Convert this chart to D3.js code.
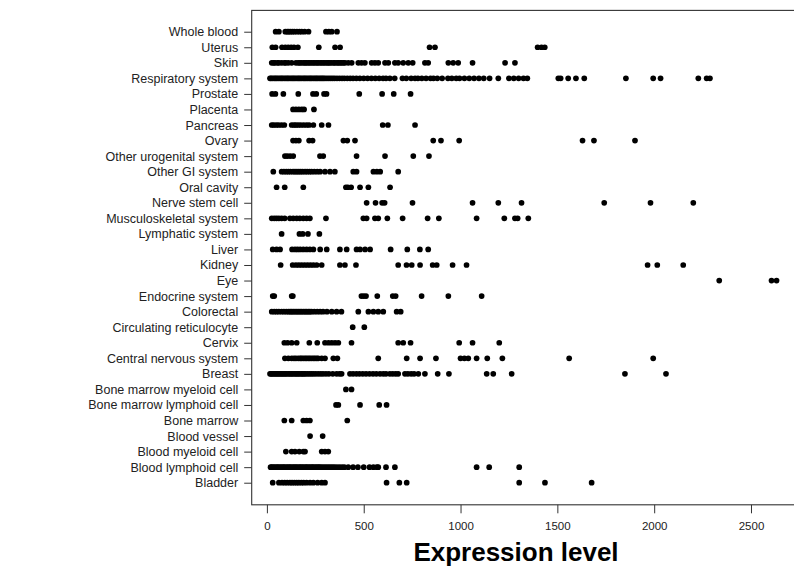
<!DOCTYPE html>
<html>
<head>
<meta charset="utf-8">
<script src="https://cdn.jsdelivr.net/npm/d3@7"></script>
<style>
  body { margin: 0; background: #fff; }
  svg { display: block; font-family: "Liberation Sans", Arial, Helvetica, sans-serif; }
</style>
</head>
<body>
<div id="chart"></div>
<script>
// categories listed bottom to top, as in the plot
var categories = ["Bladder", "Blood lymphoid cell", "Blood myeloid cell", "Blood vessel",
  "Bone marrow", "Bone marrow lymphoid cell", "Bone marrow myeloid cell", "Breast",
  "Central nervous system", "Cervix", "Circulating reticulocyte", "Colorectal",
  "Endocrine system", "Eye", "Kidney", "Liver", "Lymphatic system", "Musculoskeletal system",
  "Nerve stem cell", "Oral cavity", "Other GI system", "Other urogenital system", "Ovary",
  "Pancreas", "Placenta", "Prostate", "Respiratory system", "Skin", "Uterus", "Whole blood"];

var xTicks = [0, 500, 1000, 1500, 2000, 2500];

var bladder = [30, 62, 78, 92, 105, 119, 130, 142, 154, 165, 178, 190, 205, 223, 240, 262, 283, 300, 618, 684, 722, 1303, 1436, 1677];
var bloodLymphoid = [19, 25, 32, 40, 48, 55, 62, 70, 78, 85, 92, 100, 108, 115, 122, 130, 138, 145, 152, 160, 168, 175, 182, 190, 198, 205, 212, 220, 228, 235, 242, 250, 258, 265, 272, 280, 290, 300, 310, 320, 330, 340, 350, 362, 375, 388, 400, 420, 445, 470, 500, 530, 550, 568, 575, 615, 661, 1083, 1148, 1303];
var bloodMyeloid = [98, 128, 145, 167, 188, 197, 283, 300, 317];
var bloodVessel = [223, 288];
var boneMarrow = [90, 128, 188, 205, 222, 415];
var bmLymphoid = [357, 369, 481, 580, 618];
var bmMyeloid = [408, 437];
var breast = [16, 22, 28, 35, 42, 48, 55, 62, 68, 75, 82, 88, 95, 102, 110, 118, 125, 132, 140, 148, 155, 162, 170, 178, 185, 192, 200, 210, 220, 230, 240, 252, 265, 278, 290, 305, 320, 340, 360, 375, 386, 429, 445, 462, 478, 495, 512, 530, 548, 565, 584, 601, 615, 635, 650, 665, 678, 713, 728, 745, 760, 782, 816, 882, 940, 1135, 1169, 1264, 1849, 2061];
var cns = [93, 111, 128, 140, 150, 162, 172, 179, 188, 197, 205, 214, 222, 231, 240, 248, 257, 265, 283, 300, 343, 364, 575, 722, 791, 873, 1000, 1020, 1040, 1083, 1138, 1216, 1561, 1995];
var cervix = [90, 107, 128, 154, 219, 260, 300, 318, 335, 352, 369, 437, 678, 704, 742, 993, 1062, 1200];
var reticulocyte = [443, 503];
var colorectal = [25, 38, 50, 62, 76, 88, 100, 111, 120, 128, 136, 145, 154, 162, 171, 179, 188, 197, 205, 214, 222, 231, 245, 260, 275, 290, 310, 335, 360, 385, 472, 524, 550, 575, 601, 670, 691];
var endocrine = [30, 38, 128, 134, 488, 500, 512, 570, 650, 665, 799, 937, 1109];
var eye = [2336, 2606, 2632];
var kidney = [71, 133, 150, 165, 180, 195, 210, 225, 240, 257, 283, 377, 403, 460, 678, 721, 748, 791, 856, 877, 959, 1031, 1966, 2016, 2150];
var liver = [30, 50, 68, 130, 145, 158, 172, 188, 205, 222, 240, 275, 309, 377, 412, 463, 481, 507, 533, 639, 725, 790, 833];
var lymphatic = [76, 168, 185, 212, 271];
var musculoskeletal = [25, 38, 50, 62, 76, 92, 119, 136, 154, 170, 188, 205, 222, 305, 498, 515, 558, 575, 622, 701, 830, 888, 1083, 1226, 1281, 1295, 1350];
var nerveStem = [515, 561, 595, 608, 752, 1062, 1195, 1315, 1742, 1981, 2202];
var oralCavity = [50, 92, 188, 408, 418, 435, 481, 524, 636];
var otherGI = [33, 76, 88, 100, 111, 122, 135, 145, 155, 165, 175, 185, 197, 208, 220, 231, 245, 260, 275, 300, 326, 351, 446, 463, 550, 568, 585, 678];
var otherUrogenital = [93, 105, 120, 136, 274, 291, 463, 610, 756, 837];
var ovary = [135, 150, 165, 218, 236, 395, 415, 455, 859, 899, 993, 1630, 1689, 1901];
var pancreas = [25, 35, 48, 60, 75, 90, 128, 140, 150, 162, 175, 190, 205, 218, 240, 283, 318, 598, 625, 765];
var placenta = [135, 150, 165, 180, 192, 243];
var prostate = [27, 44, 85, 162, 238, 255, 295, 308, 477, 595, 655, 742];
var respiratory = [16, 22, 30, 38, 45, 52, 60, 68, 75, 82, 90, 98, 105, 112, 120, 128, 135, 142, 150, 158, 165, 172, 180, 188, 195, 202, 210, 218, 225, 232, 240, 248, 255, 262, 270, 278, 285, 292, 300, 310, 320, 330, 340, 350, 362, 375, 388, 400, 415, 430, 445, 462, 480, 500, 520, 540, 560, 580, 600, 615, 635, 660, 700, 720, 745, 765, 780, 800, 822, 845, 860, 880, 905, 935, 955, 978, 995, 1020, 1045, 1070, 1095, 1120, 1150, 1195, 1250, 1275, 1300, 1325, 1345, 1505, 1517, 1556, 1596, 1639, 1854, 1995, 2033, 2228, 2271, 2288];
var skin = [25, 35, 42, 55, 62, 76, 90, 98, 111, 128, 150, 162, 170, 179, 190, 197, 205, 214, 222, 231, 240, 248, 258, 265, 275, 283, 292, 300, 310, 317, 325, 334, 345, 351, 362, 369, 378, 386, 395, 403, 420, 438, 472, 489, 506, 541, 558, 575, 610, 627, 661, 678, 704, 730, 753, 816, 833, 937, 962, 988, 1062, 1230, 1281];
var uterus = [28, 45, 78, 95, 110, 125, 140, 160, 268, 352, 378, 840, 868, 1398, 1418, 1435];
var wholeBlood = [45, 62, 95, 105, 113, 122, 132, 142, 155, 168, 180, 195, 215, 305, 320, 335, 362];

// same order as categories
var series = [bladder, bloodLymphoid, bloodMyeloid, bloodVessel, boneMarrow, bmLymphoid, bmMyeloid,
  breast, cns, cervix, reticulocyte, colorectal, endocrine, eye, kidney, liver, lymphatic,
  musculoskeletal, nerveStem, oralCavity, otherGI, otherUrogenital, ovary, pancreas, placenta,
  prostate, respiratory, skin, uterus, wholeBlood];

var w = 794, h = 569;
var boxLeft = 251.7, boxRight = 796.5, boxTop = 10.4, boxBottom = 504.8;

var svg = d3.select("#chart").append("svg")
    .attr("width", w)
    .attr("height", h);

svg.append("rect").attr("width", w).attr("height", h).attr("fill", "#fff");

var x = d3.scaleLinear()
    .domain([-78.5, 2735])
    .range([boxLeft, boxRight]);

var y = d3.scaleLinear()
    .domain([1 - 1.42, categories.length + 1.37])
    .range([boxBottom, boxTop]);

// dots
var points = [];
series.forEach(function (vals, i) {
    vals.forEach(function (v) { points.push({cat: i + 1, v: v}); });
});

svg.append("g").selectAll("circle")
    .data(points)
    .enter().append("circle")
    .attr("cx", function (d) { return x(d.v); })
    .attr("cy", function (d) { return y(d.cat); })
    .attr("r", 2.85)
    .attr("fill", "#000");

// box
svg.append("rect")
    .attr("x", boxLeft)
    .attr("y", boxTop)
    .attr("width", boxRight - boxLeft)
    .attr("height", boxBottom - boxTop)
    .attr("fill", "none")
    .attr("stroke", "#333")
    .attr("stroke-width", 1.1);

var xaxis = d3.axisBottom(x)
    .tickValues(xTicks)
    .tickSize(8.5)
    .tickPadding(9)
    .tickFormat(d3.format("d"));

var gX = svg.append("g")
    .attr("transform", "translate(0," + boxBottom + ")")
    .call(xaxis);
gX.select(".domain").remove();
gX.selectAll("line").attr("stroke", "#333");
gX.selectAll("text").attr("font-size", "11.5px").attr("fill", "#222")
    .attr("font-family", "Liberation Sans, Arial, sans-serif");

var yaxis = d3.axisLeft(y)
    .tickValues(d3.range(1, categories.length + 1))
    .tickSize(7.5)
    .tickPadding(6)
    .tickFormat(function (i) { return categories[i - 1]; });

var gY = svg.append("g")
    .attr("transform", "translate(" + boxLeft + ",0)")
    .call(yaxis);
gY.select(".domain").remove();
gY.selectAll("line").attr("stroke", "#333");
gY.selectAll("text").attr("font-size", "12.5px").attr("fill", "#222")
    .attr("font-family", "Liberation Sans, Arial, sans-serif");

svg.append("text")
    .attr("x", 516)
    .attr("y", 561)
    .attr("text-anchor", "middle")
    .attr("font-size", "26px")
    .attr("font-weight", "bold")
    .attr("fill", "#000")
    .text("Expression level");
</script>
</body>
</html>
